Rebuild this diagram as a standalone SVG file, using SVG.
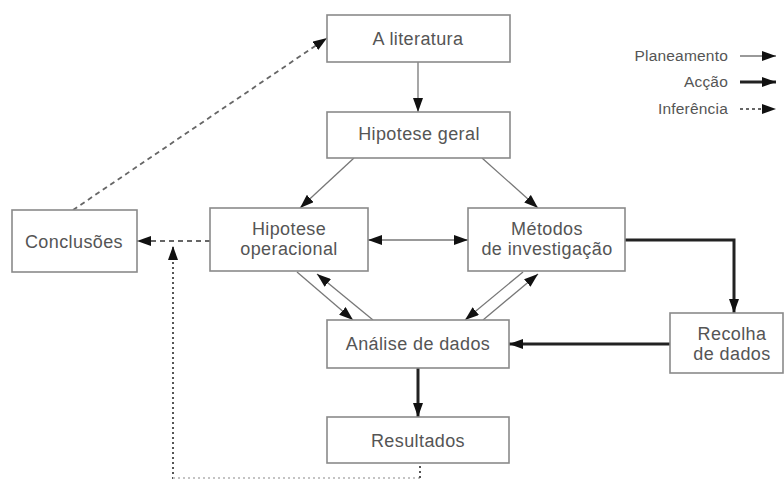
<svg xmlns="http://www.w3.org/2000/svg" width="784" height="479" viewBox="0 0 784 479">
<style>
.box{fill:#fff;stroke:#8a8a8a;stroke-width:1.6}
.t{font-family:"Liberation Sans",Arial,sans-serif;font-size:18px;fill:#555;text-anchor:middle;letter-spacing:0.4px}
.lg{font-family:"Liberation Sans",Arial,sans-serif;font-size:15.5px;fill:#555;text-anchor:end;letter-spacing:0.2px}
.thin{stroke:#777;stroke-width:1.3;fill:none}
.thick{stroke:#222;stroke-width:3;fill:none}
.dash{stroke:#666;stroke-width:1.8;fill:none;stroke-dasharray:5 4}
.dot{stroke:#555;stroke-width:2;fill:none;stroke-dasharray:2 3}
.faint{stroke:#c4c4c4}
</style>
<defs>
<marker id="ah" viewBox="0 0 14 10" refX="14" refY="5" markerWidth="14" markerHeight="10" markerUnits="userSpaceOnUse" orient="auto-start-reverse">
<path d="M0,0 L14,5 L0,10 Z" fill="#111"/>
</marker>
</defs>
<rect width="784" height="479" fill="#fff"/>
<g id="connectors">
<line class="thin" x1="418" y1="62" x2="418" y2="112" marker-end="url(#ah)"/>
<line class="thin" x1="354" y1="158" x2="300" y2="208" marker-end="url(#ah)"/>
<line class="thin" x1="482" y1="158" x2="538" y2="208" marker-end="url(#ah)"/>
<line class="thin" x1="368" y1="240" x2="468" y2="240" marker-start="url(#ah)" marker-end="url(#ah)"/>
<line class="dash" x1="210" y1="241" x2="137" y2="241" marker-end="url(#ah)"/>
<line class="dot" x1="173" y1="479" x2="173" y2="246" marker-end="url(#ah)"/>
<line class="dot faint" x1="173" y1="478" x2="420" y2="478"/>
<line class="dot" x1="420" y1="466" x2="420" y2="479"/>
<line class="dash" x1="73" y1="210" x2="327" y2="38" marker-end="url(#ah)"/>
<line class="thin" x1="297" y1="272" x2="353" y2="320" marker-end="url(#ah)"/>
<line class="thin" x1="373" y1="320" x2="317" y2="274" marker-end="url(#ah)"/>
<line class="thin" x1="523" y1="272" x2="465" y2="320" marker-end="url(#ah)"/>
<line class="thin" x1="483" y1="320" x2="538" y2="274" marker-end="url(#ah)"/>
<polyline class="thick" points="625,240 734,240 734,313" marker-end="url(#ah)"/>
<line class="thick" x1="670" y1="344" x2="509" y2="344" marker-end="url(#ah)"/>
<line class="thick" x1="418" y1="368" x2="418" y2="417" marker-end="url(#ah)"/>
</g>
<g id="literatura"><rect class="box" x="327" y="15" width="183" height="47"/><text class="t" x="418" y="45">A literatura</text></g>
<g id="hipotese-geral"><rect class="box" x="327" y="112" width="183" height="46"/><text class="t" x="419" y="140">Hipotese geral</text></g>
<g id="hipotese-operacional"><rect class="box" x="210" y="208" width="158" height="63"/><text class="t" x="289" y="235">Hipotese</text><text class="t" x="289" y="255">operacional</text></g>
<g id="metodos"><rect class="box" x="468" y="208" width="157" height="63"/><text class="t" x="547" y="235">Métodos</text><text class="t" x="547" y="255">de investigação</text></g>
<g id="conclusoes"><rect class="box" x="12" y="210" width="125" height="62"/><text class="t" x="74" y="248">Conclusões</text></g>
<g id="analise"><rect class="box" x="327" y="320" width="182" height="48"/><text class="t" x="418" y="350">Análise de dados</text></g>
<g id="resultados"><rect class="box" x="327" y="417" width="182" height="46"/><text class="t" x="418" y="447">Resultados</text></g>
<g id="recolha"><rect class="box" x="670" y="313" width="113" height="60"/><text class="t" x="732" y="340">Recolha</text><text class="t" x="732" y="360">de dados</text></g>
<g id="legend">
<text class="lg" x="728" y="61">Planeamento</text>
<line class="thin" x1="740" y1="56" x2="776" y2="56" marker-end="url(#ah)"/>
<text class="lg" x="728" y="87">Acção</text>
<line class="thick" x1="740" y1="82" x2="776" y2="82" marker-end="url(#ah)"/>
<text class="lg" x="728" y="114">Inferência</text>
<line class="dash" x1="740" y1="109" x2="776" y2="109" style="stroke-dasharray:3 3" marker-end="url(#ah)"/>
</g>
</svg>
